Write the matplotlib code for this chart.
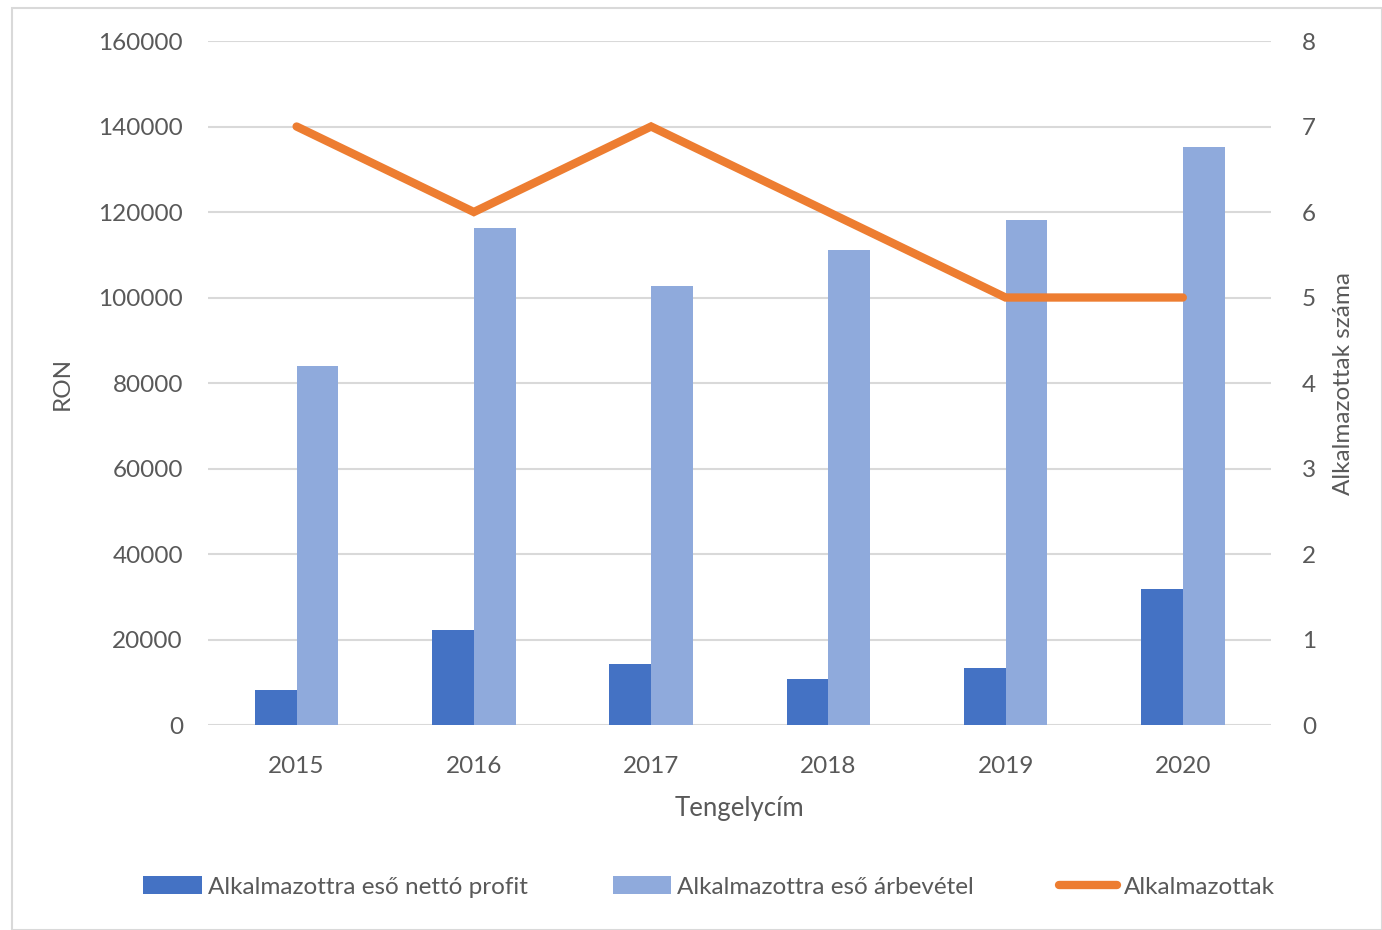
import matplotlib.pyplot as plt
import numpy as np
from matplotlib.patches import Rectangle

years = ["2015", "2016", "2017", "2018", "2019", "2020"]
profit = [8200, 22200, 14300, 10800, 13300, 31800]
revenue = [84000, 116300, 102700, 111100, 118100, 135200]
employees = [7, 6, 7, 6, 5, 5]

plt.rcParams['font.family'] = ['Lato', 'DejaVu Sans']
txt = '#595959'
fs = 17.5

fig = plt.figure(figsize=(13.82, 9.3), dpi=100)
fig.patches.append(Rectangle((12 / 1382, 0.0), 1 - 12 / 1382, 1 - 8 / 930,
                             transform=fig.transFigure, fill=False,
                             edgecolor='#d9d9d9', linewidth=1.5))
ax = fig.add_axes([0.1505, 0.2204, 0.7695, 0.7355])
x = np.arange(len(years))
w = 0.236
b1 = ax.bar(x - w / 2, profit, w, color='#4472C4', label='Alkalmazottra eső nettó profit', zorder=2)
b2 = ax.bar(x + w / 2, revenue, w, color='#8FAADC', label='Alkalmazottra eső árbevétel', zorder=2)
ax.set_ylim(0, 160000)
ax.set_xlim(-0.5, 5.5)
ax.set_yticks(range(0, 160001, 20000))
ax.set_xticks(x)
ax.set_xticklabels(years)
ax.grid(axis='y', color='#d9d9d9', linewidth=1.5, zorder=0)
for s in ax.spines.values():
    s.set_visible(False)
ax.tick_params(length=0, labelsize=fs, colors=txt, pad=18)
ax.tick_params(axis='x', pad=22)
ax.set_ylabel('RON', fontsize=fs, color=txt, labelpad=18)
ax.set_xlabel('Tengelycím', fontsize=18.5, color=txt, labelpad=14)

ax2 = ax.twinx()
ln, = ax2.plot(x, employees, color='#ED7D31', linewidth=6, solid_capstyle='round',
               solid_joinstyle='miter', label='Alkalmazottak', zorder=3)
ax2.set_ylim(0, 8)
ax2.set_yticks(range(0, 9))
for s in ax2.spines.values():
    s.set_visible(False)
ax2.tick_params(length=0, labelsize=fs, colors=txt, pad=22)
ax2.set_ylabel('Alkalmazottak száma', fontsize=fs, color=txt, labelpad=12)

fig.legend(handles=[b1, b2, ln], loc='center', bbox_to_anchor=(0.513, 1 - 887 / 930),
           ncol=3, frameon=False, fontsize=fs, labelcolor=txt, handlelength=2.4,
           handletextpad=0.25, columnspacing=3.5)

fig.savefig('out.png', dpi=100)
